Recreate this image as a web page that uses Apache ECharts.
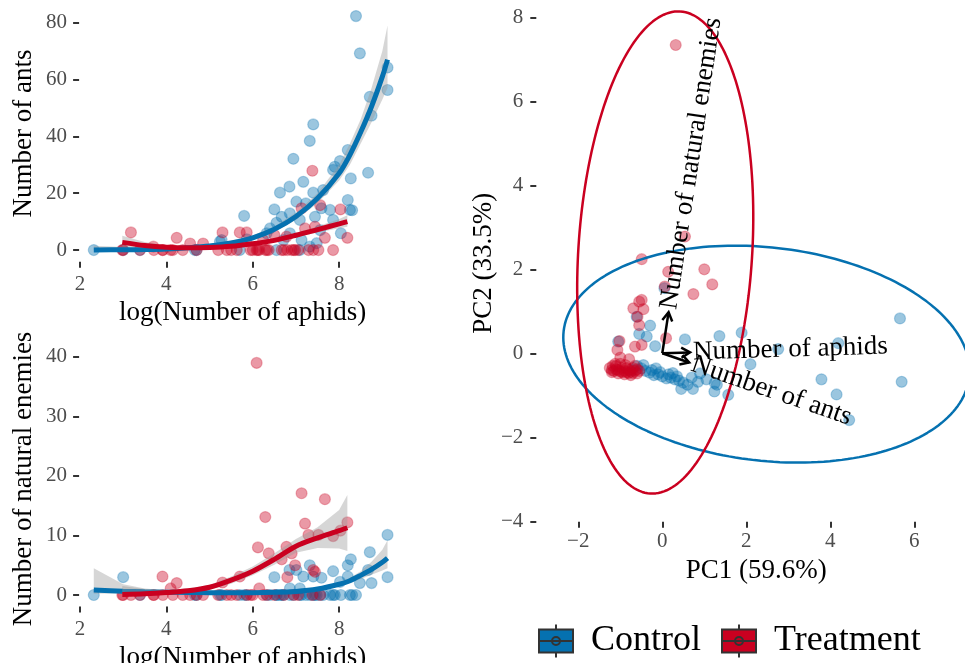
<!DOCTYPE html>
<html><head><meta charset="utf-8">
<script src="https://cdn.jsdelivr.net/npm/echarts@6/dist/echarts.min.js"></script>
<style>html,body{margin:0;padding:0;background:#fff}#c{width:965px;height:663px}</style>
</head><body><div id="c"></div>
<script>
// ---------- tick labels ----------
const xTicks = [2, 4, 6, 8];
const antsTicks = [0, 20, 40, 60, 80];
const enemiesTicks = [0, 10, 20, 30, 40];
const pc1Ticks = [-2, 0, 2, 4, 6];
const pc2Ticks = [-4, -2, 0, 2, 4, 6, 8];
const groups = ['Control', 'Treatment'];

// ---------- raw observations ----------
const ctrlLogAphids = [2.32, 3.0, 3.39, 4.66, 4.7, 5.24, 5.28, 5.7, 5.8, 5.86, 6.32, 6.4, 6.5, 6.55, 6.55, 6.63, 6.67, 6.71, 6.85, 6.86, 6.86, 6.94, 7.01, 7.09, 7.09, 7.13, 7.17, 7.23, 7.32, 7.32, 7.4, 7.4, 7.44, 7.48, 7.56, 7.59, 7.63, 7.79, 7.86, 7.9, 7.86, 8.02, 8.04, 8.2, 8.2, 8.25, 8.27, 8.3, 8.39, 8.48, 8.67, 8.71, 8.75, 9.12, 9.12];
const ctrlAnts = [0, 0, 0, 0, 0, 3, 3.5, 0, 12, 3.8, 5.9, 7.6, 14.3, 9.6, 0, 20.2, 11.7, 3.5, 22.3, 12.9, 5.9, 32.1, 17, 10.6, 0, 3.5, 24, 16.4, 38.4, 1.2, 44.2, 20.2, 11.7, 2.4, 7, 14.7, 21.1, 14.1, 28.2, 29.3, 10.6, 31.3, 5.9, 35.2, 17.6, 14.1, 25.2, 14, 82.3, 69.2, 27.2, 53.9, 47.3, 64.2, 56.3];
const ctrlEnemies = [0, 3.0, 0, 0, 0, 0, 0, 0, 0, 0, 0, 0, 3.0, 0, 0, 0, 0, 0, 4.2, 0, 1.1, 0, 4.2, 1.1, 0, 0, 3.1, 0, 5.0, 0, 3.1, 0, 0, 0, 0, 2.9, 0, 0, 4.0, 0, 0, 2.2, 0, 5.0, 3.1, 0, 6.0, 0, 0, 2.0, 4.2, 7.2, 2.0, 10.1, 3.0];

const trtLogAphids = [2.98, 3.0, 3.18, 3.39, 3.7, 3.71, 3.91, 3.92, 4.1, 4.15, 4.24, 4.38, 4.55, 4.7, 4.85, 5.2, 5.3, 5.4, 5.5, 5.63, 5.7, 5.86, 5.95, 6.0, 6.09, 6.12, 6.15, 6.24, 6.29, 6.33, 6.37, 6.5, 6.67, 6.72, 6.78, 6.8, 6.9, 6.95, 6.98, 7.05, 7.13, 7.21, 7.29, 7.38, 7.4, 7.44, 7.52, 7.56, 7.67, 7.86, 8.03, 8.19];
const trtAnts = [0, 0, 6.2, 0, 1.2, 0, 0, 0, 0, 0, 4.3, 0, 2.3, 0, 2.3, 0, 6.2, 0, 0, 0, 6.2, 6.2, 0, 0, 0, 0, 0, 3.5, 0, 0, 0, 5.3, 0, 0, 4.7, 0, 0, 0, 0, 0, 14.7, 7.6, 0, 27.9, 0, 8.2, 0, 15.8, 4.3, 0, 14.3, 4.3];
const trtEnemies = [0, 0, 0, 0, 0, 0, 3.1, 0, 1.1, 0, 2.0, 0, 0, 0, 0, 0, 2.1, 0, 0, 0, 3.1, 0, 0, 0, 39, 8.0, 1.1, 0, 13.1, 0, 7.0, 0, 6.0, 0, 8.1, 3.0, 7.0, 0, 5.0, 0, 17.1, 12.0, 10.1, 0, 4.2, 3.9, 10.1, 0, 16.1, 9.9, 10.8, 12.2];

// ---------- fitted curves ----------
const ctrlFitX = [2.32, 3, 3.5, 4, 4.5, 5, 5.5, 6, 6.5, 7, 7.5, 8, 8.25, 8.5, 8.75, 9, 9.12];
const ctrlAntsFit = [0.05, 0.1, 0.2, 0.4, 0.8, 1.4, 2.5, 4.3, 7.3, 11.8, 18.2, 27, 33.5, 41.5, 50.5, 61, 67];
const ctrlAntsLo = [0, 0, 0, 0.1, 0.4, 0.9, 1.9, 3.6, 6.4, 10.6, 16.5, 24.5, 30, 37.5, 45, 53, 57];
const ctrlAntsHi = [1.5, 1.1, 1.0, 1.2, 1.5, 2.1, 3.3, 5.1, 8.3, 13.2, 20, 30, 37.5, 46, 57, 70, 79];
const ctrlEnemiesFit = [0.85, 0.65, 0.55, 0.47, 0.42, 0.38, 0.36, 0.38, 0.45, 0.6, 1.0, 1.8, 2.4, 3.3, 4.3, 5.5, 6.2];
const ctrlEnemiesLo = [0.2, 0.3, 0.3, 0.3, 0.3, 0.28, 0.27, 0.28, 0.34, 0.47, 0.8, 1.5, 2.0, 2.7, 3.4, 4.1, 4.5];
const ctrlEnemiesHi = [4.5, 1.8, 1.1, 0.8, 0.6, 0.5, 0.48, 0.5, 0.6, 0.75, 1.25, 2.15, 2.9, 4.0, 5.6, 7.6, 9.2];

const trtFitX = [2.98, 3.5, 4, 4.5, 5, 5.5, 6, 6.5, 7, 7.5, 8, 8.19];
const trtAntsFit = [2.7, 1.6, 1.0, 0.8, 0.9, 1.3, 2.2, 3.4, 5.2, 7.2, 9.2, 10];
const trtAntsLo = [1.2, 0.9, 0.6, 0.5, 0.6, 0.9, 1.7, 2.8, 4.4, 6.2, 7.7, 8.2];
const trtAntsHi = [5.0, 2.8, 1.6, 1.2, 1.3, 1.8, 2.8, 4.1, 6.1, 8.3, 10.9, 12.2];
const trtEnemiesFit = [0.1, 0.2, 0.4, 0.7, 1.3, 2.5, 4.0, 6.0, 8.2, 9.6, 10.8, 11.3];
const trtEnemiesLo = [0, 0.05, 0.15, 0.4, 0.9, 1.9, 3.3, 5.1, 7.1, 7.9, 7.8, 7.4];
const trtEnemiesHi = [1.5, 1.0, 0.9, 1.1, 1.7, 3.1, 4.8, 7.0, 9.4, 11.4, 14.3, 16.8];

// ---------- PCA scores ----------
const pcaCtrlPC1 = [5.66, 5.7, 4.19, 3.79, 4.15, 4.45, 2.76, 2.1, 1.36, 1.89, 0.54, -0.17, -0.29, -0.55, -0.37, 0.05, -1.05, -0.61, -0.6, -0.5, -0.4, -0.3, -0.2, -0.1, 0, 0.1, 0.2, 0.3, 0.4, 0.5, 0.6, 0.15, -0.05, -0.25, 0.35, 0.7, 0.9, 0.73, 1.25, 1.24, 1.57, 1.3, 0.45, -0.45, -0.7, 0.85, 1.05, -0.15, 0.25];
const pcaCtrlPC2 = [0.83, -0.68, 0.24, -0.62, -0.98, -1.59, 0.1, -0.26, 0.41, 0.49, 0.33, 0.17, 0.66, 0.46, 0.4, 1.55, 0.28, 0.87, -0.3, -0.36, -0.42, -0.46, -0.52, -0.5, -0.55, -0.6, -0.58, -0.62, -0.65, -0.7, -0.75, -0.5, -0.45, -0.4, -0.55, -0.58, -0.48, -0.85, -0.71, -0.91, -0.99, -0.75, -0.85, -0.28, -0.4, -0.68, -0.62, -0.36, -0.47];
const pcaTrtPC1 = [0.32, 0.54, -0.49, 0.14, 1.0, 1.19, 0.74, 0.06, -0.55, -0.49, -0.69, -0.45, -0.59, -0.55, 0.09, -0.49, -0.65, -1.02, -1.07, -1.0, -0.79, -1.25, -1.2, -1.15, -1.1, -1.05, -1.0, -0.95, -0.9, -0.85, -0.8, -0.75, -0.7, -0.65, -0.6, -1.18, -1.1, -0.95, -0.85, -0.7, -1.2, -1.05, -0.9, -0.75, -0.6, -1.0, -0.88, -0.55, -0.65, -1.12, -0.78];
const pcaTrtPC2 = [7.34, 2.78, 2.24, 1.94, 2.0, 1.64, 1.41, 1.59, 1.23, 1.27, 1.07, 1.05, 0.87, 0.67, 0.36, 0.2, 0.16, 0.29, 0.08, -0.1, -0.14, -0.35, -0.4, -0.42, -0.38, -0.4, -0.43, -0.45, -0.42, -0.45, -0.47, -0.44, -0.47, -0.42, -0.38, -0.3, -0.3, -0.35, -0.35, -0.35, -0.45, -0.48, -0.5, -0.52, -0.48, -0.25, -0.28, -0.42, -0.3, -0.25, -0.4];
// ellipse: centre PC1, centre PC2, semi-major, semi-minor, angle of major axis (deg)
const ctrlEllipse = [2.48, -0.02, 4.86, 2.54, -6.5];
const trtEllipse = [0.07, 2.4, 5.75, 2.07, 86.44];
// loadings (arrow tips)
const loadingNames = ['Number of aphids', 'Number of ants', 'Number of natural enemies'];
const loadingPC1 = [0.66, 0.64, 0.15];
const loadingPC2 = [0.02, -0.22, 0.98];

// ---------- styles ----------
const SERIF = '"Liberation Serif", "Times New Roman", serif';
const BLUE = '#0571B0', RED = '#CA0020';
const BLUE_PT = 'rgba(5,113,176,0.5)', RED_PT = 'rgba(202,0,32,0.5)';
const BLUE_PTB = 'rgba(5,113,176,0.35)', RED_PTB = 'rgba(202,0,32,0.35)';
const BAND = 'rgba(153,153,153,0.4)';

const zip = (a, b) => a.map((v, i) => [v, b[i]]);
const fmt = v => (v < 0 ? '\u2212' + Math.abs(v) : String(v));

function ellipsePoints(e) {
  const [cx, cy, a, b, deg] = e;
  const th = deg * Math.PI / 180, pts = [];
  for (let k = 0; k <= 200; k++) {
    const t = 2 * Math.PI * k / 200;
    pts.push([cx + a * Math.cos(t) * Math.cos(th) - b * Math.sin(t) * Math.sin(th),
              cy + a * Math.cos(t) * Math.sin(th) + b * Math.sin(t) * Math.cos(th)]);
  }
  return pts;
}

function axis(o) {
  return {
    type: 'value', gridIndex: o.grid, min: o.min, max: o.max,
    axisLine: { show: false, onZero: false }, splitLine: { show: false },
    axisTick: { show: true, length: 6, lineStyle: { color: '#333', width: 2 }, customValues: o.ticks },
    axisLabel: { customValues: o.ticks, margin: o.margin, color: '#4D4D4D', fontSize: 21, fontFamily: SERIF, formatter: fmt },
    name: o.name, nameLocation: 'middle', nameGap: o.gap,
    nameTextStyle: { color: '#000', fontSize: 27, fontFamily: SERIF }
  };
}

function scatter(name, xa, ya, x, y, c, bc, z) {
  return { type: 'scatter', name, xAxisIndex: xa, yAxisIndex: ya, data: zip(x, y), symbolSize: 11,
    itemStyle: { color: c, borderColor: bc, borderWidth: 1.2 }, z, silent: true };
}
function band(xa, x, lo, hi, z) {
  return { type: 'custom', xAxisIndex: xa, yAxisIndex: xa, data: [[x[0], lo[0]]], z, silent: true,
    renderItem: (params, api) => {
      const pts = [];
      for (let i = 0; i < x.length; i++) pts.push(api.coord([x[i], hi[i]]));
      for (let i = x.length - 1; i >= 0; i--) pts.push(api.coord([x[i], lo[i]]));
      return { type: 'polygon', shape: { points: pts }, style: { fill: BAND } };
    } };
}
function fit(name, xa, x, y, c, z) {
  return { type: 'line', name, xAxisIndex: xa, yAxisIndex: xa, data: zip(x, y), smooth: 0.3,
    showSymbol: false, lineStyle: { color: c, width: 5 }, itemStyle: { color: c }, z, silent: true };
}

const keyIcon = 'path://M0,5L34,5L34,28L0,28Z M17,0L17,5 M17,28L17,33 M0,16.5L34,16.5 M21,16.5A4,4,0,1,1,13,16.5A4,4,0,1,1,21,16.5Z';

const chart = echarts.init(document.getElementById('c'), null, { renderer: 'canvas' });
chart.setOption({
  animation: false,
  backgroundColor: '#fff',
  textStyle: { fontFamily: SERIF },
  grid: [
    { left: 79.1, top: 5.3, width: 327.0, height: 256.4, outerBoundsMode: 'none' },
    { left: 79.1, top: 351.3, width: 327.0, height: 255.3, outerBoundsMode: 'none' },
    { left: 536.3, top: 4.7, width: 439.7, height: 517.0, outerBoundsMode: 'none' }
  ],
  xAxis: [
    axis({ grid: 0, min: 1.98, max: 9.55, ticks: xTicks, margin: 12, name: 'log(Number of aphids)', gap: 38 }),
    axis({ grid: 1, min: 1.98, max: 9.55, ticks: xTicks, margin: 12, name: 'log(Number of aphids)', gap: 38 }),
    axis({ grid: 2, min: -3, max: 7.47, ticks: pc1Ticks, margin: 9, name: 'PC1 (59.6%)', gap: 36 })
  ],
  yAxis: [
    axis({ grid: 0, min: -4.1, max: 86.1, ticks: antsTicks, margin: 12, name: 'Number of ants', gap: 42 }),
    axis({ grid: 1, min: -1.95, max: 40.95, ticks: enemiesTicks, margin: 12, name: 'Number of natural enemies', gap: 42 }),
    axis({ grid: 2, min: -4.01, max: 8.3, ticks: pc2Ticks, margin: 13, name: 'PC2 (33.5%)', gap: 35 })
  ],
  legend: {
    left: 538, top: 623, padding: 0, orient: 'horizontal', itemWidth: 34, itemHeight: 33, itemGap: 20,
    icon: keyIcon, selectedMode: false,
    textStyle: { fontSize: 36, fontFamily: SERIF, color: '#000', padding: [0, 0, 0, 13] },
    data: [
      { name: groups[0], itemStyle: { color: BLUE, borderColor: '#333', borderWidth: 2, opacity: 1 } },
      { name: groups[1], itemStyle: { color: RED, borderColor: '#333', borderWidth: 2, opacity: 1 } }
    ]
  },
  series: [
    // panel A: ants
    scatter(groups[0], 0, 0, ctrlLogAphids, ctrlAnts, BLUE_PT, BLUE_PTB, 2),
    scatter(groups[1], 0, 0, trtLogAphids, trtAnts, RED_PT, RED_PTB, 2),
    band(0, ctrlFitX, ctrlAntsLo, ctrlAntsHi, 3),
    fit(groups[0], 0, ctrlFitX, ctrlAntsFit, BLUE, 4),
    band(0, trtFitX, trtAntsLo, trtAntsHi, 5),
    fit(groups[1], 0, trtFitX, trtAntsFit, RED, 6),
    // panel B: natural enemies
    scatter(groups[0], 1, 1, ctrlLogAphids, ctrlEnemies, BLUE_PT, BLUE_PTB, 2),
    scatter(groups[1], 1, 1, trtLogAphids, trtEnemies, RED_PT, RED_PTB, 2),
    band(1, ctrlFitX, ctrlEnemiesLo, ctrlEnemiesHi, 3),
    fit(groups[0], 1, ctrlFitX, ctrlEnemiesFit, BLUE, 4),
    band(1, trtFitX, trtEnemiesLo, trtEnemiesHi, 5),
    fit(groups[1], 1, trtFitX, trtEnemiesFit, RED, 6),
    // panel C: PCA biplot
    scatter(groups[0], 2, 2, pcaCtrlPC1, pcaCtrlPC2, BLUE_PT, BLUE_PTB, 2),
    scatter(groups[1], 2, 2, pcaTrtPC1, pcaTrtPC2, RED_PT, RED_PTB, 2),
    { type: 'line', name: groups[0], xAxisIndex: 2, yAxisIndex: 2, data: ellipsePoints(ctrlEllipse), showSymbol: false,
      lineStyle: { color: BLUE, width: 2.5 }, itemStyle: { color: BLUE }, z: 4, silent: true },
    { type: 'line', name: groups[1], xAxisIndex: 2, yAxisIndex: 2, data: ellipsePoints(trtEllipse), showSymbol: false,
      lineStyle: { color: RED, width: 2.5 }, itemStyle: { color: RED }, z: 4, silent: true },
    { type: 'custom', name: 'loadings', xAxisIndex: 2, yAxisIndex: 2, z: 6, silent: true,
      data: loadingPC1.map((v, i) => [0, 0, v, loadingPC2[i]]),
      encode: { x: [0, 2], y: [1, 3] },
      renderItem: (params, api) => {
        const p0 = api.coord([api.value(0), api.value(1)]);
        const p1 = api.coord([api.value(2), api.value(3)]);
        const dx = p1[0] - p0[0], dy = p1[1] - p0[1], len = Math.hypot(dx, dy);
        const ux = dx / len, uy = dy / len, L = 10, ang = Math.PI / 6;
        const head = s => {
          const c = Math.cos(s * ang), sn = Math.sin(s * ang);
          return [p1[0] - L * (ux * c - uy * sn), p1[1] - L * (ux * sn + uy * c)];
        };
        return { type: 'group', children: [
          { type: 'line', shape: { x1: p0[0], y1: p0[1], x2: p1[0], y2: p1[1] }, style: { stroke: '#000', lineWidth: 2.5 } },
          { type: 'polyline', shape: { points: [head(1), p1, head(-1)] }, style: { stroke: '#000', lineWidth: 2.5, fill: null } },
          { type: 'text', x: p1[0] + 3 * ux, y: p1[1] + 3 * uy, rotation: Math.atan2(-dy, dx),
            style: { text: loadingNames[params.dataIndex], fontSize: 27, fontFamily: SERIF, fill: '#000', align: 'left', verticalAlign: 'middle' } }
        ] };
      } }
  ]
});
</script></body></html>
